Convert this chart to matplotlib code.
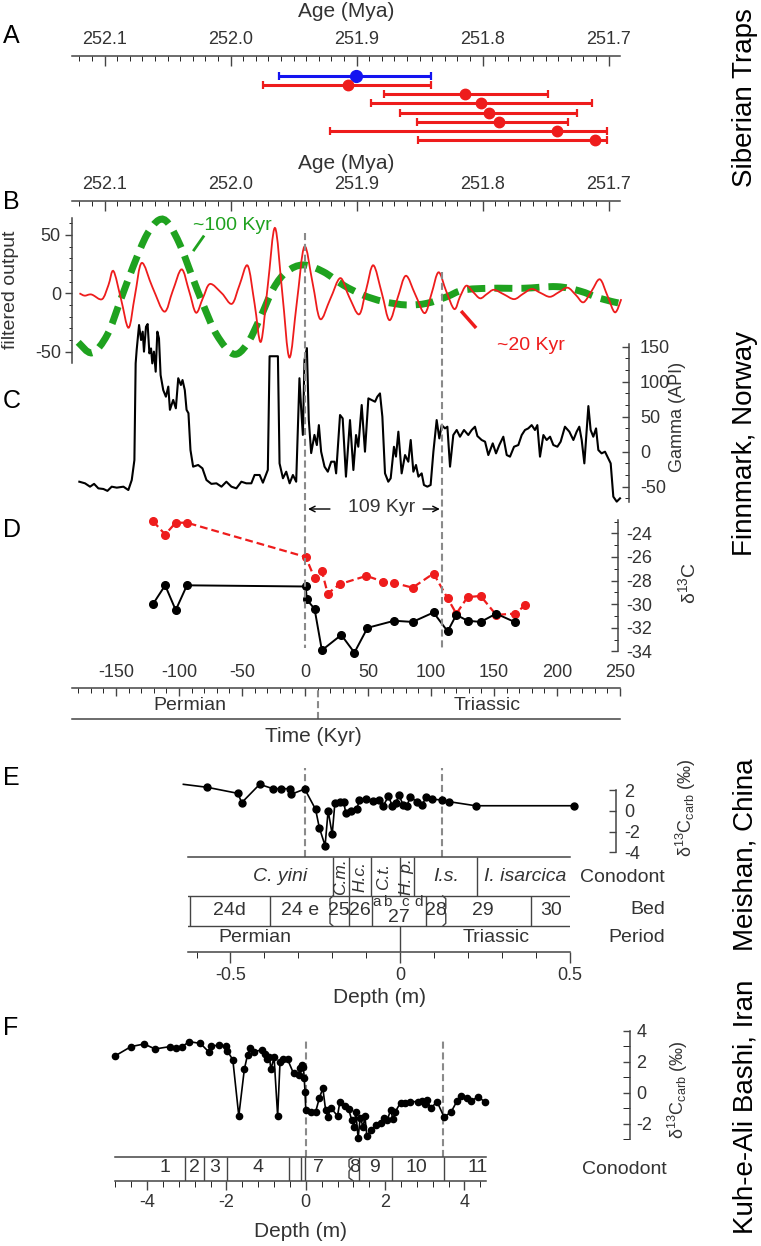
import matplotlib.pyplot as plt
from matplotlib.ticker import MultipleLocator, FixedLocator, FuncFormatter, AutoMinorLocator
from matplotlib.path import Path
from matplotlib.patches import PathPatch

plt.rcParams['font.family'] = ['Liberation Sans', 'DejaVu Sans']
plt.rcParams['mathtext.fontset'] = 'custom'
plt.rcParams['mathtext.rm'] = 'Liberation Sans'
plt.rcParams['mathtext.it'] = 'Liberation Sans:italic'
plt.rcParams['mathtext.default'] = 'regular'
plt.rcParams['axes.unicode_minus'] = False

# ---------------- data ----------------
T0 = 251.941  # age (Mya) of time 0 Kyr

# A: Siberian Traps ages (Mya): centre, young end, old end
blue_age = [251.9005]
blue_young = [251.841]
blue_old = [251.962]
red_age = [251.907, 251.814, 251.801, 251.795, 251.787, 251.741, 251.711]
red_young = [251.841, 251.748, 251.713, 251.725, 251.732, 251.701, 251.701]
red_old = [251.974, 251.878, 251.889, 251.866, 251.852, 251.921, 251.851]

# B: filtered gamma output
green_t = [-180, -169, -157, -146.8, -136, -125.6, -116, -108.5, -99, -90, -80.7, -70,
           -56.9, -46.3, -35.7, -25, -14.5, -1.3, 14.5, 30.4, 46, 62, 80.7, 96.6, 112.4,
           125.6, 146.8, 173, 199.8, 218, 234, 250]
green_v = [-42, -51, -35.7, -7, 24, 50, 62.8, 60, 41, 15.7, -10, -35.7,
           -52, -44, -21.4, 4.3, 18.5, 24.3, 18.5, 7, -1.5, -7, -10, -8.6, -3,
           2.8, 4.3, 4.3, 5.7, 2, -4.3, -8.6]
red_t = [-179, -175, -171, -168.5, -161, -156, -152, -146, -140, -135, -129.6, -121, -111.6,
         -105, -97.9, -92, -86.5, -81, -75.4, -66, -58, -52, -45.5, -40, -35, -29.5, -23.8,
         -18, -12.4, -6.5, -0.5, 6, 12, 20, 28, 35, 43, 48.5, 54.2, 61, 67, 73.5, 80, 87.5,
         95, 100.5, 106, 112, 118.5, 123, 128, 133.5, 139, 144.5, 150, 158, 166, 173, 180,
         187, 194.4, 201.5, 208.5, 215, 221, 227.5, 234, 240, 246, 251]
red_v = [0, -2, -1, -1.4, -5, 7, 19, -5, -29.5, -2, 26, 5, -15.7,
         2, 20.5, 2, -16.6, -4, 8, 0, -9, 7, 23.7, -9, -41.5, 7, 56,
         0, -55, -8, 40, 9, -22, -5, 13, -3, -18, 3, 24, 0, -23, -4, 15, -1,
         -17, 0, 18, 2, -13.5, -3, 6.5, 1, -4.3, -0.5, 3, -1, -5, -0.5, 3.7,
         0.3, -3, 1, 4.8, -1.5, -7.7, 2, 12, -2, -16.3, -5]

# C: gamma ray log (API)
gamma_t = [-179.1, -174.6, -170.6, -167.4, -164, -160, -156.8, -153.4, -149.4, -144.1, -140.2,
           -137.5, -135.4, -134.4, -133.6, -131.7, -130.1, -128.8, -127.8, -126.2, -124.9,
           -123.5, -122.2, -121.2, -119.9, -118.5, -117.2, -115.9, -114.6, -112.5, -110.4,
           -108.5, -107.2, -104.6, -102.5, -100.6, -98.5, -97.2, -95.4, -94, -92.5, -90.9,
           -88.8, -84.8, -81.4, -78.2, -74.3, -70.3, -66.3, -62.4, -58.4, -54.5, -50.5,
           -46.6, -42.6, -40, -36, -33.4, -29.5, -28.1, -21.5, -20.2, -17.5, -14.9, -12.2,
           -9.6, -7, -4.4, -3, -1.7, -0.4, 1.5, 3, 4.9, 7.5, 9.4, 11, 12.8, 15.5, 18.1,
           20.8, 23.4, 24.7, 27.8, 29.9, 32.5, 35.7, 38.4, 40.5, 42.3, 45, 47.6, 50.3, 52.9,
           55.6, 57.4, 59.5, 61.4, 63.5, 66.1, 68, 70.6, 72.2, 74.1, 76.7, 79.4, 82, 83.9,
           86, 88.1, 90, 92.6, 94.4, 97.1, 99.7, 101.9, 104.5, 106.6, 108.5, 111.1, 113,
           115.1, 117.7, 120.4, 123, 126.2, 129.6, 132.3, 134.9, 136.8, 140.2, 142.9, 145.5,
           149, 151.6, 154.2, 157.4, 160.1, 162.7, 165.9, 169.3, 172, 174.6, 177.2, 179.9,
           182.5, 184.4, 186.5, 189.2, 191.8, 194.5, 197.1, 200.3, 202.9, 206.3, 209.8, 213,
           215.6, 217.7, 219.6, 221.7, 224.9, 226.7, 228.8, 231, 232.8, 235.4, 238.1, 240.7,
           242.6, 244.7, 247.4, 250]
gamma_v = [-42.9, -45.2, -50, -46, -52.4, -53.3, -56, -50, -51.4, -50, -54.8,
           -40.5, -12, 126.2, 145.3, 181, 159.6, 171.5, 143, 178.6, 182.4,
           140.5, 147.6, 126.2, 143, 114.3, 171.5, 162, 109.5, 88, 78.6,
           93, 59.8, 74, 62, 105, 95.3, 102.4, 88, 59.8, 55, 2.4,
           -21.4, -19, -23.8, -40.5, -46, -45.2, -50, -42.9, -50, -52.4, -42.9,
           -45.2, -45.2, -33.3, -33.3, -44.3, -26, 136.4, 136.4, -16.7, -38, -28.6, -45.2,
           -33.3, -42.9, 105, 59.8, 24, 131, 148, 45.7, -2, 24, 9.5, 38, 0, -21.4, -28.6,
           -14.3, -14.3, -31, 52.4, 47.6, -35.7, 45.2, -26.2, 23.8, 7.1, 66.7, 0, 76.2, 73.8,
           71.4, 78.6, 83.3, 50, -31, -42.9, -38, 7, -7, 28.6, -31, -4.8, -14.3, 16.7,
           -28.6, -19, -35.7, -31, -47.6, -50, -47.6, 0, 45.2, 19, 38, 33.3, 35.7,
           -21.4, 23.8, 31, 21.4, 31, 23.8, 31, 35.7, 22.4, 16.7, 14.3, -4.8,
           11.9, -2.4, 9.5, 21.4, -4.8, -7.1, 7.1, 9.5, 23.8, 31, 33.3, 38,
           31, 38, -7.1, 23.8, 16.7, 21.4, 9.5, 7.1, 14.3, 35.7, 28.6, 16.7,
           28.6, 35.7, 16.7, -16.7, 65.2, 31, 21.4, 33.3, 2.4, -2.4, 0, -9.5,
           -16.7, -64.3, -71.4, -66.7]

# D: carbon isotopes, Finnmark
d13_red_t = [-120.7, -111, -102.6, -93.7, 0.6, 7.6, 13.4, 18, 27.6, 48.8, 62.3, 70.8, 85.4,
             102, 113.2, 120.1, 129, 139.4, 151.7, 166.3, 174.8]
d13_red_v = [-22.96, -24.1, -23.1, -23.1, -26.0, -27.8, -27.2, -29.1, -28.3, -27.6, -28.1,
             -28.2, -28.6, -27.4, -29.5, -30.8, -29.4, -29.3, -30.9, -30.8, -30.1]
d13_blk_t = [-120.7, -111, -102.6, -93.7, 0.6, 1.4, 7.6, 13.4, 28.8, 39.2, 49.6, 70.8, 85.4,
             102, 113.2, 120.1, 129, 139.4, 151.7, 166.3]
d13_blk_v = [-30.0, -28.4, -30.5, -28.4, -28.5, -29.6, -30.4, -33.9, -32.6, -34.1, -32.0,
             -31.4, -31.5, -30.7, -32.3, -30.9, -31.4, -31.5, -30.8, -31.5]
TIE_T = [0, 109]        # Kyr
PT_T = 10.3             # Permian/Triassic boundary on the time scale

# E: Meishan
mei_depth = [-0.639, -0.568, -0.478, -0.467, -0.414, -0.375, -0.352, -0.324, -0.321, -0.281,
             -0.249, -0.238, -0.221, -0.212, -0.2, -0.192, -0.178, -0.166, -0.16, -0.146,
             -0.127, -0.12, -0.099, -0.08, -0.063, -0.049, -0.034, -0.023, -0.013, -0.003,
             0.009, 0.021, 0.03, 0.049, 0.066, 0.077, 0.094, 0.123, 0.145, 0.223, 0.514]
mei_d13 = [2.55, 2.26, 1.68, 0.78, 2.55, 2.13, 2.13, 2.13, 1.59, 2.1,
           0.14, -1.62, -3.35, 0.01, -2.26, 0.78, 0.88, 0.88, -0.24, 0.01,
           0.2, 1.04, 1.13, 0.94, 1.04, 0.49, 1.42, 0.49, 0.71, 1.52,
           0.59, 0.49, 1.36, 0.88, 0.59, 1.36, 1.13, 1.04, 0.88, 0.49, 0.49]
mei_dash = [-0.28, 0.124]
mei_cono_edges = [-0.198, -0.150, -0.0855, 0.0006, 0.041, 0.2265]
mei_cono = [('C. yini', -0.354, 0), ('C.m.', -0.175, 90), ('H.c.', -0.118, 90),
            ('C.t.', -0.0487, 90), ('H. p.', 0.02, 90), ('I.s.', 0.135, 0),
            ('I. isarcica', 0.37, 0)]
mei_bed_edges = [-0.6195, -0.384, -0.150, -0.0832, 0.0776, 0.387]
mei_bed_brackets = [(-0.2065, 1), (0.135, -1)]
mei_beds = [('24d', -0.502), ('24 e', -0.296), ('25', -0.181), ('26', -0.118),
            ('27', -0.003), ('28', 0.106), ('29', 0.244), ('30', 0.445)]
mei_sub = [('a', -0.068), ('b', -0.037), ('c', 0.0145), ('d', 0.0546)]
mei_periods = [('Permian', -0.428), ('Triassic', 0.284)]
mei_pt = 0.0

# F: Kuh-e-Ali Bashi
kuh_depth = [-4.81, -4.41, -4.08, -3.8, -3.43, -3.28, -3.12, -2.94, -2.66, -2.45, -2.39, -2.2,
             -2.02, -1.98, -1.84, -1.69, -1.55, -1.47, -1.41, -1.31, -1.1, -1.04, -0.98, -0.92,
             -0.88, -0.8, -0.71, -0.65, -0.57, -0.46, -0.31, -0.18, -0.15, -0.1, -0.06, -0.04,
             -0.02, 0.0, 0.12, 0.25, 0.34, 0.43, 0.5, 0.55, 0.64, 0.8, 0.86, 0.98, 1.08, 1.16,
             1.22, 1.26, 1.32, 1.37, 1.45, 1.49, 1.54, 1.65, 1.78, 1.9, 1.96, 2.05, 2.14, 2.2,
             2.26, 2.39, 2.51, 2.63, 2.82, 2.94, 3.0, 3.06, 3.15, 3.31, 3.49, 3.67, 3.82, 3.92,
             4.07, 4.17, 4.35, 4.51]
kuh_d13 = [2.39, 2.99, 3.16, 2.84, 2.99, 2.9, 2.99, 3.31, 3.2, 2.66, 3.0, 3.1,
           3.0, 2.73, 2.13, -1.48, 1.53, 2.45, 2.88, 2.67, 2.78, 2.5, 2.17, 2.35,
           1.53, 2.3, -1.48, 2.02, 2.17, 2.17, 1.27, 1.16, 1.59, 1.81, 1.66, 0.95,
           0.09, -1.1, -1.2, -1.2, -0.34, 0.3, -1.1, -1.53, -0.99, -1.48, -0.56, -0.84, -1.06, -1.74,
           -2.17, -1.2, -2.92, -1.63, -2.17, -1.48, -2.77, -2.39, -2.07, -1.91, -1.63, -1.77, -1.1, -1.7,
           -1.2, -0.62, -0.67, -0.56, -0.56, -0.49, -0.71, -0.45, -0.99, -0.56, -1.57, -1.2, -0.49, -0.19,
           -0.34, -0.49, -0.26, -0.56]
kuh_dash = [0.0, 3.45]
kuh_edges = [-3.059, -2.57, -1.982, -0.429, -0.121, -0.023, 1.347, 2.179, 3.49]
kuh_bracket = 1.09
kuh_zones = [('1', -3.55), ('2', -2.82), ('3', -2.29), ('4', -1.21), ('7', 0.31),
             ('8', 1.23), ('9', 1.745), ('10', 2.79), ('11', 4.34)]

# ---------------- layout helpers ----------------
W, H = 761, 1246
TXT = '#333333'
LINE = '#444444'
GREEN = '#1fa21f'
RED = '#ee1c1c'
BLUE = '#1414f0'
GREY = '#8a8a8a'

fig = plt.figure(figsize=(W / 100, H / 100), dpi=100)


def add_ax(l, t, r, b):
    ax = fig.add_axes([l / W, 1 - b / H, (r - l) / W, (b - t) / H])
    ax.patch.set_alpha(0)
    for s in ax.spines.values():
        s.set_visible(False)
        s.set_color(LINE)
        s.set_linewidth(1.1)
    ax.tick_params(colors=LINE, labelcolor=TXT, labelsize=13, width=1)
    return ax


def ftext(x, y, s, **kw):
    kw.setdefault('ha', 'center')
    kw.setdefault('va', 'center')
    fig.text(x / W, 1 - y / H, s, **kw)


def smooth_path(xs, ys):
    # smooth Bezier curve passing through the read points
    pts = list(zip(xs, ys))
    n = len(pts)
    verts = [pts[0]]
    codes = [Path.MOVETO]
    for i in range(n - 1):
        p0 = pts[max(i - 1, 0)]
        p1 = pts[i]
        p2 = pts[i + 1]
        p3 = pts[min(i + 2, n - 1)]
        c1 = (p1[0] + (p2[0] - p0[0]) / 6, p1[1] + (p2[1] - p0[1]) / 6)
        c2 = (p2[0] - (p3[0] - p1[0]) / 6, p2[1] - (p3[1] - p1[1]) / 6)
        verts += [c1, c2, p2]
        codes += [Path.CURVE4] * 3
    return Path(verts, codes)


# time scale (Kyr) shared by panels A-D
def tlim(l, r):
    return ((l - 305) / 1.26, (r - 305) / 1.26)


def age_axis(ax, l, r, labelpad):
    t1, t2 = tlim(l, r)
    ax.set_xlim(T0 - t1 / 1000, T0 - t2 / 1000)
    ax.spines['top'].set_visible(True)
    ax.xaxis.set_ticks_position('top')
    ax.xaxis.set_label_position('top')
    ax.xaxis.set_major_locator(MultipleLocator(0.1))
    ax.xaxis.set_minor_locator(MultipleLocator(0.01))
    ax.xaxis.set_major_formatter(FuncFormatter(lambda v, p: f'{v:.1f}'))
    ax.tick_params(axis='x', which='major', direction='in', length=7, pad=6)
    ax.tick_params(axis='x', which='minor', direction='in', length=3.5)
    ax.set_yticks([])
    ax.set_xlabel('Age (Mya)', fontsize=15, color=TXT, labelpad=labelpad)


# ---------------- A ----------------
axA = add_ax(72, 56, 620, 150)
age_axis(axA, 72, 620, 10)
axA.set_ylim(8.1, -2.2)
axA.errorbar(blue_age, [0], xerr=[[a - y for a, y in zip(blue_age, blue_young)],
                                  [o - a for a, o in zip(blue_age, blue_old)]],
             fmt='o', color=BLUE, ms=8.5, elinewidth=2.2, capsize=3, capthick=1.6, clip_on=False)
axA.errorbar(red_age, list(range(1, len(red_age) + 1)),
             xerr=[[a - y for a, y in zip(red_age, red_young)],
                   [o - a for a, o in zip(red_age, red_old)]],
             fmt='o', color=RED, ms=7.5, elinewidth=2.2, capsize=3, capthick=1.6, clip_on=False)

# ---------------- B ----------------
axBa = add_ax(72, 201, 620, 215)
age_axis(axBa, 72, 620, 5)

axB = add_ax(72, 218, 620, 363)
axB.set_xlim(*tlim(72, 620))
axB.set_ylim(-59.7, 64.5)
axB.spines['left'].set_visible(True)
axB.set_xticks([])
axB.yaxis.set_major_locator(MultipleLocator(50))
axB.yaxis.set_minor_locator(MultipleLocator(10))
axB.tick_params(axis='y', which='major', direction='out', length=5, pad=3)
axB.tick_params(axis='y', which='minor', direction='out', length=2.5)
axB.add_patch(PathPatch(smooth_path(green_t, green_v), fill=False, edgecolor=GREEN, lw=5,
                        linestyle=(0, (2.6, 1.3)), capstyle='butt', clip_on=False))
axB.add_patch(PathPatch(smooth_path(red_t, red_v), fill=False, edgecolor=RED, lw=1.3,
                        clip_on=False))
ftext(11, 290, 'filtered output', rotation=90, fontsize=14, color=TXT)

# ---------------- C ----------------
axC = add_ax(72, 344, 629, 502)
axC.set_xlim(*tlim(72, 629))
axC.set_ylim(-71.9, 153.9)
axC.spines['right'].set_visible(True)
axC.set_xticks([])
axC.yaxis.tick_right()
axC.yaxis.set_major_locator(MultipleLocator(50))
axC.yaxis.set_minor_locator(AutoMinorLocator(3))
axC.tick_params(axis='y', which='major', direction='in', length=5, pad=8)
axC.tick_params(axis='y', which='minor', direction='in', length=3)
axC.plot(gamma_t, gamma_v, color='black', lw=1.5, clip_on=False)
ftext(678, 417, 'Gamma (API)', rotation=90, fontsize=13, color=TXT)

# ---------------- D ----------------
axD = add_ax(72, 520, 618, 655)
axD.set_xlim(*tlim(72, 618))
axD.set_ylim(-34.3, -22.87)
axD.spines['right'].set_visible(True)
axD.spines['right'].set_bounds(-34, -22.87)
axD.set_xticks([])
axD.yaxis.tick_right()
axD.yaxis.set_major_locator(MultipleLocator(2))
axD.yaxis.set_minor_locator(MultipleLocator(1))
axD.tick_params(axis='y', which='major', direction='in', length=5, pad=6)
axD.tick_params(axis='y', which='minor', direction='in', length=3)
axD.plot(d13_red_t, d13_red_v, color=RED, lw=1.6, dashes=(3.5, 1.8), marker='o', ms=5.5,
         clip_on=False)
axD.plot(d13_blk_t, d13_blk_v, color='black', lw=1.4, marker='o', ms=5.5, clip_on=False)
ftext(688, 583, r'δ$^{13}$C', rotation=90, fontsize=14, color=TXT)

# time axis with Permian/Triassic row
axT = add_ax(72, 688, 620, 719)
axT.set_xlim(*tlim(72, 620))
axT.set_ylim(0, 1)
axT.spines['top'].set_visible(True)
axT.spines['bottom'].set_visible(True)
axT.xaxis.set_ticks_position('top')
axT.xaxis.set_major_locator(MultipleLocator(50))
axT.xaxis.set_minor_locator(MultipleLocator(10))
axT.tick_params(axis='x', which='major', direction='in', length=5.5, pad=5)
axT.tick_params(axis='x', which='minor', direction='in', length=3.5)
axT.set_yticks([])
axT.axvline(PT_T, color=GREY, lw=1.5, dashes=(3.4, 1.8))
axT.text(-91, 0.45, 'Permian', ha='center', va='center', fontsize=14, color=TXT)
axT.text(144.4, 0.45, 'Triassic', ha='center', va='center', fontsize=14, color=TXT)
ftext(313, 737, 'Time (Kyr)', fontsize=15, color=TXT)

# overlay for tie lines and annotations (y in pixels)
ov = add_ax(72, 200, 620, 700)
ov.set_xlim(*tlim(72, 620))
ov.set_ylim(700, 200)
ov.set_xticks([])
ov.set_yticks([])
ov.vlines(TIE_T[0], 233, 648, color=GREY, lw=1.5, linestyles=(0, (3.4, 1.8)))
ov.vlines(TIE_T[1], 272, 648, color=GREY, lw=1.5, linestyles=(0, (3.4, 1.8)))
ov.plot([-80.7, -88.1], [236.7, 250], color=GREEN, lw=2)
ov.text(-89, 225, '~100 Kyr', color=GREEN, fontsize=14, ha='left', va='center')
ov.plot([124.8, 134.9], [312.3, 326.7], color=RED, lw=2.5)
ov.text(152, 345, '~20 Kyr', color=RED, fontsize=14, ha='left', va='center')
ov.annotate('', xy=(2.4, 509), xytext=(19.8, 509),
            arrowprops=dict(arrowstyle='->', lw=1, color='black', shrinkA=0, shrinkB=0))
ov.annotate('', xy=(107, 509), xytext=(93.7, 509),
            arrowprops=dict(arrowstyle='->', lw=1, color='black', shrinkA=0, shrinkB=0))
ov.text(60.8, 508, '109 Kyr', ha='center', va='center', fontsize=14, color=TXT)

# ---------------- E ----------------
def dlim_e(l, r):
    return ((l - 400) / 339, (r - 400) / 339)


axE = add_ax(188, 768, 615.5, 857)
axE.set_xlim(*dlim_e(188, 615.5))
axE.set_ylim(-4.44, 4.12)
axE.spines['right'].set_visible(True)
axE.spines['right'].set_bounds(-4, 2)
axE.set_xticks([])
axE.yaxis.tick_right()
axE.set_yticks([-4, -2, 0, 2])
axE.tick_params(axis='y', direction='in', length=5, pad=6)
for d in mei_dash:
    axE.axvline(d, color=GREY, lw=1.5, dashes=(3.4, 1.8))
axE.plot(mei_depth, mei_d13, color='black', lw=1.2, marker='o', ms=5,
         markevery=list(range(1, len(mei_depth))), clip_on=False)
ftext(686, 808, r'δ$^{13}$C$_{\mathrm{carb}}$ (‰)', rotation=90, fontsize=13, color=TXT)

axEs = add_ax(188, 857, 570, 951.7)
axEs.set_xlim(*dlim_e(188, 570))
axEs.set_ylim(0, 1)
axEs.spines['top'].set_visible(True)
axEs.spines['bottom'].set_visible(True)
axEs.set_yticks([])
axEs.xaxis.set_major_locator(MultipleLocator(0.5))
axEs.xaxis.set_minor_locator(MultipleLocator(0.1))
axEs.xaxis.set_major_formatter(FuncFormatter(lambda v, p: f'{round(v, 3) + 0:g}'))
axEs.tick_params(axis='x', which='major', direction='out', length=8, pad=3)
axEs.tick_params(axis='x', which='minor', direction='out', length=4)
axEs.set_xlabel('Depth (m)', fontsize=15, color=TXT, labelpad=3)
rows = [0, 0.27, 0.59, 1]
lk = dict(color=LINE, lw=1)
axEs.axhline(rows[1], **lk)
axEs.axhline(rows[2], **lk)
axEs.vlines(mei_cono_edges, rows[2], rows[3], **lk)
axEs.vlines(mei_bed_edges, rows[1], rows[2], **lk)
for d, s in mei_bed_brackets:
    k = 0.009 * s
    axEs.plot([d + k, d, d, d + k * 0.4, d, d, d + k],
              [rows[2], rows[2] - 0.03, rows[1] + 0.19, (rows[1] + rows[2]) / 2,
               rows[1] + 0.13, rows[1] + 0.03, rows[1]], **lk)
axEs.vlines(mei_pt, rows[0], rows[1], **lk)
for name, d, rot in mei_cono:
    axEs.text(d, (rows[2] + rows[3]) / 2, name, ha='center', va='center', rotation=rot,
              style='italic', fontsize=12.5 if rot else 14, color=TXT)
for name, d in mei_beds:
    y = 0.36 if name == '27' else 0.44
    axEs.text(d, y, name, ha='center', va='center', fontsize=14, color=TXT)
for name, d in mei_sub:
    axEs.text(d, 0.525, name, ha='center', va='center', fontsize=11, color=TXT)
for name, d in mei_periods:
    axEs.text(d, 0.145, name, ha='center', va='center', fontsize=14, color=TXT)
ftext(665, 878, 'Conodont', ha='right', fontsize=14, color=TXT)
ftext(665, 909, 'Bed', ha='right', fontsize=14, color=TXT)
ftext(665, 937, 'Period', ha='right', fontsize=14, color=TXT)

# ---------------- F ----------------
def dlim_f(l, r):
    return ((l - 305.8) / 39.65, (r - 305.8) / 39.65)


axF = add_ax(115, 1024, 629.6, 1157)
axF.set_xlim(*dlim_f(115, 629.6))
axF.set_ylim(-4.13, 4.45)
axF.spines['right'].set_visible(True)
axF.spines['right'].set_bounds(-3, 4)
axF.set_xticks([])
axF.yaxis.tick_right()
axF.yaxis.set_major_locator(FixedLocator([-2, 0, 2, 4]))
axF.yaxis.set_minor_locator(FixedLocator([-3, -1, 1, 3]))
axF.tick_params(axis='y', which='both', direction='in', length=5, pad=5)
axF.vlines(kuh_dash, -4.13, 3.42, color=GREY, lw=1.5, linestyles=(0, (3.4, 1.8)))
axF.plot(kuh_depth, kuh_d13, color='black', lw=1.2, marker='o', ms=4.5, clip_on=False)
ftext(678, 1090, r'δ$^{13}$C$_{\mathrm{carb}}$ (‰)', rotation=90, fontsize=13, color=TXT)

axFs = add_ax(115, 1157, 486.4, 1180.7)
axFs.set_xlim(*dlim_f(115, 486.4))
axFs.set_ylim(0, 1)
axFs.spines['top'].set_visible(True)
axFs.spines['bottom'].set_visible(True)
axFs.set_yticks([])
axFs.xaxis.set_major_locator(MultipleLocator(2))
axFs.xaxis.set_minor_locator(MultipleLocator(0.4))
axFs.xaxis.set_major_formatter(FuncFormatter(lambda v, p: f'{round(v, 3) + 0:g}'))
axFs.tick_params(axis='x', which='major', direction='out', length=6.5, pad=3)
axFs.tick_params(axis='x', which='minor', direction='out', length=4)
axFs.set_xlabel('Depth (m)', fontsize=15, color=TXT, labelpad=8)
axFs.vlines(kuh_edges, 0, 1, **lk)
axFs.plot([kuh_bracket + 0.1, kuh_bracket, kuh_bracket, kuh_bracket + 0.04, kuh_bracket,
           kuh_bracket, kuh_bracket + 0.1], [1, 0.88, 0.6, 0.5, 0.4, 0.12, 0], **lk)
for name, d in kuh_zones:
    axFs.text(d, 0.55, name, ha='center', va='center', fontsize=14, color=TXT)
ftext(624, 1170, 'Conodont', fontsize=14, color=TXT)

# ---------------- panel letters and site names ----------------
for letter, y in [('A', 36), ('B', 202), ('C', 401), ('D', 530), ('E', 778), ('F', 1028)]:
    ftext(3, y, letter, ha='left', fontsize=18, color='black')
for name, y in [('Siberian Traps', 98), ('Finnmark, Norway', 443),
                ('Meishan, China', 855), ('Kuh-e-Ali Bashi, Iran', 1107)]:
    ftext(745, y, name, rotation=90, fontsize=20, color='black')

fig.savefig('out.png', dpi=100)
